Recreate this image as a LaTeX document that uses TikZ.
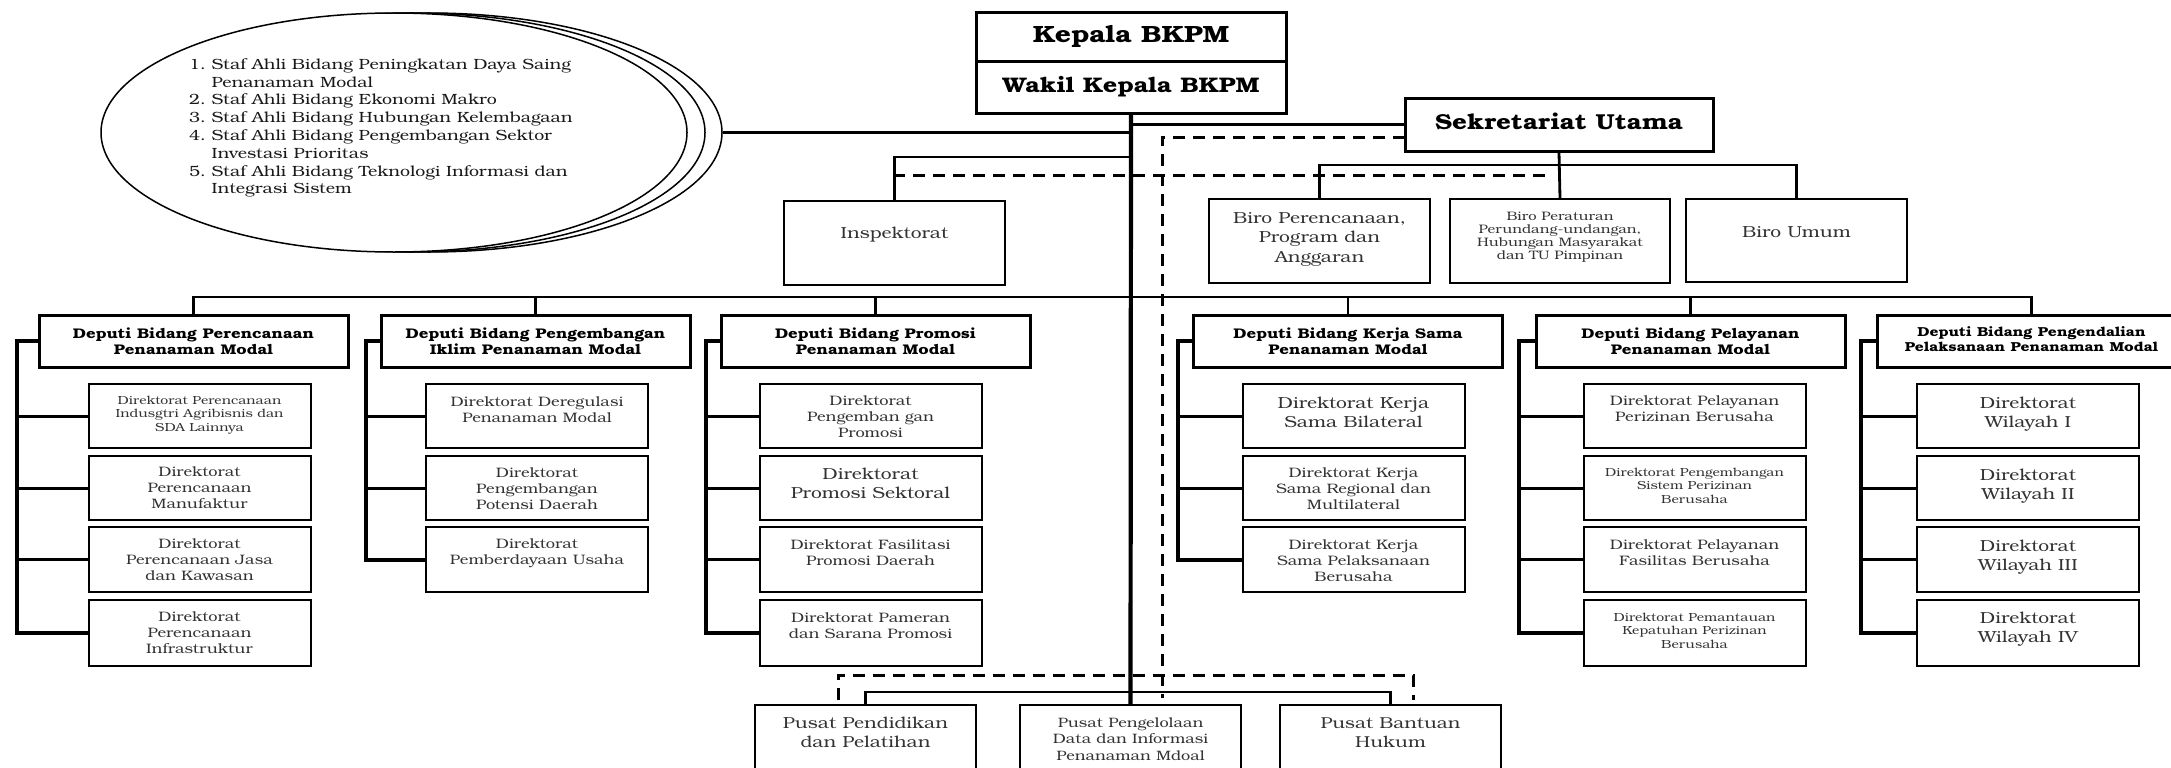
\documentclass[tikz,border=0pt]{standalone}
\usepackage{fontspec}
\setmainfont{texgyrebonum}[Extension=.otf, UprightFont=*-regular, BoldFont=*-bold, FakeStretch=1.2]
\usetikzlibrary{shapes.geometric}
\newcommand\fs[2]{\fontsize{#1pt}{#2pt}\selectfont}
\newcommand\tb[4]{\parbox[c][#1pt][t]{#2pt}{\centering\rule{0pt}{#3pt}#4\par}}
\newcommand\dn[7]{\node[dirb,#1] (#2) at (#3,#4) {\tb{#5}{222}{#6}{#7}};}
\tikzset{
  kbox/.style={draw, line width=3pt, inner sep=0pt, font=\bfseries\fs{23.5}{26}},
  dep/.style={draw, line width=3pt, inner sep=0pt, font=\bfseries\fs{14}{16.5}},
  dirb/.style={draw, line width=2pt, inner sep=0pt, text=black!80},
  biro/.style={draw, line width=1.6pt, inner sep=0pt, text=black!80},
  conn/.style={line width=2.8pt, line join=miter},
  spine/.style={line width=4.2pt},
  brk/.style={line width=4pt, line join=miter},
  stub/.style={line width=3pt},
  dsh/.style={line width=3pt, dash pattern=on 12pt off 8pt},
  ell/.style={ellipse, draw, line width=1.5pt, fill=white, minimum width=586pt, minimum height=239pt, inner sep=0pt},
  fN/.style={font=\fs{13.7}{16.3}},
  fS/.style={font=\fs{11.7}{13.5}},
  fL/.style={font=\fs{16}{19}}
}
\begin{document}
\begin{tikzpicture}[x=1pt,y=-1pt]
\useasboundingbox (0,0) rectangle (2171,768);
\fill[white] (0,0) rectangle (2171,768);

% ---- staf ahli ellipses
\node[ell] (ellC) at (429,132.5) {};
\node[ell] (ellB) at (412,132.5) {};
\node[ell] (ellA) at (394,132.5) {};
\node[anchor=west, inner sep=0pt, font=\fs{14.8}{17.8}, text=black!90] (staf) at (189,128) {%
\begin{tabular}{@{}r@{\ }l@{}}
1. & Staf Ahli Bidang Peningkatan Daya Saing\\
   & Penanaman Modal\\
2. & Staf Ahli Bidang Ekonomi Makro\\
3. & Staf Ahli Bidang Hubungan Kelembagaan\\
4. & Staf Ahli Bidang Pengembangan Sektor\\
   & Investasi Prioritas\\
5. & Staf Ahli Bidang Teknologi Informasi dan\\
   & Integrasi Sistem
\end{tabular}};

% ---- top
\node[kbox] (kep) at (1131,37.5) {\tb{49}{310}{30}{Kepala BKPM}};
\node[kbox, font=\bfseries\fs{21.1}{24}] (wak) at (1131,87.5) {\tb{51}{310}{30}{Wakil Kepala BKPM}};
\node[kbox, font=\bfseries\fs{21.6}{24}] (sek) at (1559,124.5) {\tb{53}{308}{31}{Sekretariat Utama}};

\node[biro, font=\fs{16}{19}] (insp) at (894.5,243) {\tb{84}{221}{37}{Inspektorat}};
\node[biro, font=\fs{16}{19.5}] (b1) at (1319.5,241) {\tb{84}{221}{24}{Biro Perencanaan,\\Program dan\\Anggaran}};
\node[biro, font=\fs{12.3}{13.3}] (b2) at (1560,241) {\tb{84}{220}{21}{Biro Peraturan\\Perundang-undangan,\\Hubungan Masyarakat\\dan TU Pimpinan}};
\node[biro, font=\fs{16}{19.5}] (b3) at (1796.5,240.5) {\tb{83}{221}{38}{Biro Umum}};

% ---- deputi
\node[dep] (d1) at (193.5,341) {\tb{52}{309}{23}{Deputi Bidang Perencanaan\\Penanaman Modal}};
\node[dep] (d2) at (535.5,341) {\tb{52}{309}{23}{Deputi Bidang Pengembangan\\Iklim Penanaman Modal}};
\node[dep] (d3) at (875.5,341) {\tb{52}{309}{23}{Deputi Bidang Promosi\\Penanaman Modal}};
\node[dep] (d4) at (1348,341) {\tb{52}{309}{23}{Deputi Bidang Kerja Sama\\Penanaman Modal}};
\node[dep] (d5) at (1690.5,341) {\tb{52}{309}{23}{Deputi Bidang Pelayanan\\Penanaman Modal}};
\node[dep, font=\bfseries\fs{13}{15}] (d6) at (2031.5,341) {\tb{52}{309}{21}{Deputi Bidang Pengendalian\\Pelaksanaan Penanaman Modal}};

% ---- direktorat
\dn{fS}{d1a}{199.5}{416}{64}{20}{Direktorat Perencanaan\\Indusgtri Agribisnis dan\\SDA Lainnya}
\dn{fN}{d1b}{199.5}{488}{64}{20}{Direktorat\\Perencanaan\\Manufaktur}
\dn{fN}{d1c}{199.5}{559.5}{65}{21}{Direktorat\\Perencanaan Jasa\\dan Kawasan}
\dn{fN}{d1d}{199.5}{633}{66}{21}{Direktorat\\Perencanaan\\Infrastruktur}

\dn{fN}{d2a}{537}{416}{64}{22}{Direktorat Deregulasi\\Penanaman Modal}
\dn{fN}{d2b}{537}{488}{64}{21}{Direktorat\\Pengembangan\\Potensi Daerah}
\dn{fN}{d2c}{537}{559.5}{65}{21}{Direktorat\\Pemberdayaan Usaha}

\dn{fN}{d3a}{870.5}{416}{64}{21}{Direktorat\\Pengemban gan\\Promosi}
\dn{fL}{d3b}{870.5}{488}{64}{23}{Direktorat\\Promosi Sektoral}
\dn{fN}{d3c}{870.5}{559.5}{65}{22}{Direktorat Fasilitasi\\Promosi Daerah}
\dn{fN}{d3d}{870.5}{633}{66}{22}{Direktorat Pameran\\dan Sarana Promosi}

\dn{fL}{d4a}{1353.5}{416}{64}{24}{Direktorat Kerja\\Sama Bilateral}
\dn{fN}{d4b}{1353.5}{488}{64}{21}{Direktorat Kerja\\Sama Regional dan\\Multilateral}
\dn{fN}{d4c}{1353.5}{559.5}{65}{22}{Direktorat Kerja\\Sama Pelaksanaan\\Berusaha}

\dn{fN}{d5a}{1694.5}{416}{64}{21}{Direktorat Pelayanan\\Perizinan Berusaha}
\dn{fS}{d5b}{1694.5}{488}{64}{20}{Direktorat Pengembangan\\Sistem Perizinan\\Berusaha}
\dn{fN}{d5c}{1694.5}{559.5}{65}{22}{Direktorat Pelayanan\\Fasilitas Berusaha}
\dn{fS}{d5d}{1694.5}{633}{66}{21}{Direktorat Pemantauan\\Kepatuhan Perizinan\\Berusaha}

\dn{fL}{d6a}{2028}{416}{64}{24}{Direktorat\\Wilayah I}
\dn{fL}{d6b}{2028}{488}{64}{24}{Direktorat\\Wilayah II}
\dn{fL}{d6c}{2028}{559.5}{65}{24}{Direktorat\\Wilayah III}
\dn{fL}{d6d}{2028}{633}{66}{23}{Direktorat\\Wilayah IV}

% ---- pusat
\node[biro, font=\fs{16}{19}] (p1) at (865.5,747.5) {\tb{85}{221}{23}{Pusat Pendidikan\\dan Pelatihan}};
\node[biro, font=\fs{13.6}{16.5}] (p2) at (1130.5,747.5) {\tb{85}{221}{22}{Pusat Pengelolaan\\Data dan Informasi\\Penanaman Mdoal}};
\node[biro, font=\fs{15.8}{19}] (p3) at (1390.5,747.5) {\tb{85}{221}{23}{Pusat Bantuan\\Hukum}};

% ---- dashed lines
\coordinate (dA) at (1405,137);
\coordinate (dB) at (1162,137);
\coordinate (dC) at (1162,698);
\draw[dsh] (dA) -- (dB) -- (dC);
\coordinate (dD) at (893,175);
\coordinate (dE) at (1551,175);
\draw[dsh] (dD) -- (dE);
\coordinate (dF) at (838,700);
\coordinate (dG) at (838,675);
\coordinate (dH) at (1413,675);
\coordinate (dI) at (1413,700);
\draw[dsh] (dF) -- (dG) -- (dH) -- (dI);

% ---- solid connectors
\draw[spine] (wak.south) -- (p2.north);
\draw[conn] (ellC.east) -- (ellC.east -| wak.south);
\draw[conn] (sek.west) -- (sek.west -| wak.south);
\coordinate (inspH) at (1130,157);
\draw[conn] (insp.north) |- (inspH);
\coordinate (sekB) at (1559,165);
\draw[conn] (b1.north) |- (sekB) -| (b3.north);
\draw[conn] (sek.south) -- (b2.north);
\coordinate (depB) at (1130,297);
\draw[conn] (d1.north) |- (depB) -| (d6.north);
\foreach \n in {d2,d3,d4,d5} \draw[conn] (\n.north) -- (\n.north |- depB);
\coordinate (pB) at (1130,692);
\draw[conn] (p1.north) |- (pB) -| (p3.north);

% ---- brackets
\coordinate (k1) at (17,341);
\draw[brk] (d1.west) -- (k1) |- (d1d.west);
\foreach \n in {d1a,d1b,d1c} \draw[stub] (k1 |- \n.west) -- (\n.west);
\coordinate (k2) at (366,341);
\draw[brk] (d2.west) -- (k2) |- (d2c.west);
\foreach \n in {d2a,d2b} \draw[stub] (k2 |- \n.west) -- (\n.west);
\coordinate (k3) at (706,341);
\draw[brk] (d3.west) -- (k3) |- (d3d.west);
\foreach \n in {d3a,d3b,d3c} \draw[stub] (k3 |- \n.west) -- (\n.west);
\coordinate (k4) at (1178,341);
\draw[brk] (d4.west) -- (k4) |- (d4c.west);
\foreach \n in {d4a,d4b} \draw[stub] (k4 |- \n.west) -- (\n.west);
\coordinate (k5) at (1519,341);
\draw[brk] (d5.west) -- (k5) |- (d5d.west);
\foreach \n in {d5a,d5b,d5c} \draw[stub] (k5 |- \n.west) -- (\n.west);
\coordinate (k6) at (1861,341);
\draw[brk] (d6.west) -- (k6) |- (d6d.west);
\foreach \n in {d6a,d6b,d6c} \draw[stub] (k6 |- \n.west) -- (\n.west);
\end{tikzpicture}
\end{document}
